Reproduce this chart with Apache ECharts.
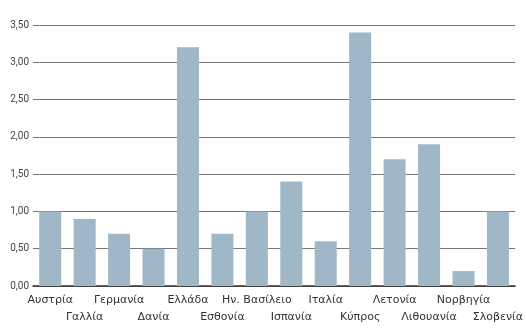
<!DOCTYPE html>
<html>
<head>
    <meta charset="utf-8">
    <title>ECharts</title>
    <script src="https://cdn.jsdelivr.net/npm/echarts@6/dist/echarts.min.js"></script>
    <style>
        html, body { margin: 0; padding: 0; background: #fff; }
    </style>
</head>
<body>
    <div id="main" style="width: 526px;height:329px;"></div>
    <script type="text/javascript">
        var countries = ['Αυστρία', 'Γαλλία', 'Γερμανία', 'Δανία', 'Ελλάδα', 'Εσθονία', 'Ην. Βασίλειο',
            'Ισπανία', 'Ιταλία', 'Κύπρος', 'Λετονία', 'Λιθουανία', 'Νορβηγία', 'Σλοβενία'];
        var values = [1.0, 0.9, 0.7, 0.5, 3.2, 0.7, 1.0, 1.4, 0.6, 3.4, 1.7, 1.9, 0.2, 1.0];

        var myChart = echarts.init(document.getElementById('main'));
        var option = {
            animation: false,
            grid: { left: 33, right: 9, top: 25, bottom: 43 },
            xAxis: {
                type: 'category',
                data: countries,
                axisTick: { show: false },
                axisLine: { lineStyle: { color: '#333', width: 1.5 } },
                axisLabel: {
                    interval: 0,
                    color: '#333',
                    fontFamily: 'DejaVu Sans',
                    fontSize: 11,
                    lineHeight: 17,
                    margin: 6,
                    formatter: function (v, i) {
                        return i % 2 ? '\n' + v : v;
                    }
                }
            },
            yAxis: {
                type: 'value',
                min: 0,
                max: 3.5,
                interval: 0.5,
                axisLine: { show: false },
                axisTick: { show: false },
                splitLine: { lineStyle: { color: '#777', width: 1 } },
                axisLabel: {
                    color: '#444',
                    fontFamily: 'Liberation Sans Narrow, Roboto',
                    fontSize: 10,
                    margin: 4,
                    formatter: function (v) {
                        return v.toFixed(2).replace('.', ',');
                    }
                }
            },
            series: [{
                type: 'bar',
                data: values,
                barWidth: 22,
                itemStyle: { color: '#9fb7c6' }
            }]
        };
        myChart.setOption(option);
    </script>
</body>
</html>
